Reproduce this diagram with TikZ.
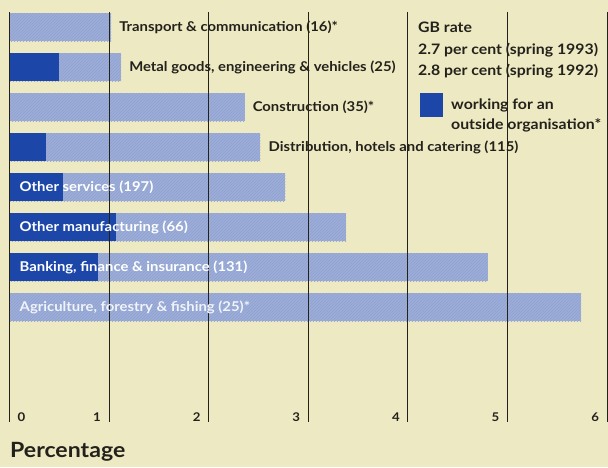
\documentclass[tikz,border=0pt]{standalone}
\usepackage{fontspec}
\setmainfont{Lato}[FakeStretch=1.1]
\usepackage{tikz}
\usetikzlibrary{patterns}
\definecolor{paper}{RGB}{237,233,194}
\definecolor{barlight}{RGB}{156,174,216}
\definecolor{barhatch}{RGB}{142,161,208}
\definecolor{bardark}{RGB}{28,70,168}
\definecolor{ink}{RGB}{35,33,28}
\tikzstyle{bar}=[fill=barlight,postaction={pattern=north east lines,pattern color=barhatch}]
\tikzstyle{outside bar}=[fill=bardark]
\tikzstyle{grid line}=[draw=ink,line width=1pt]
\tikzstyle{sector}=[anchor=west,inner sep=0pt,font=\bfseries\fontsize{13.5}{15}\selectfont]
\tikzstyle{sector out}=[sector,text=ink]
\tikzstyle{sector in}=[sector,text=white]
\tikzstyle{tick label}=[inner sep=0pt,text=ink,font=\bfseries\fontsize{12}{13}\selectfont]
\tikzstyle{key text}=[anchor=west,inner sep=0pt,text=ink,font=\bfseries\fontsize{14.4}{16}\selectfont]

\begin{document}
\begin{tikzpicture}[x=1pt,y=-1pt]
    \useasboundingbox[fill=paper] (0,0) rectangle (608,467);
    \begin{scope}[xshift=9.5pt,x=99.6pt]
    % First we draw the bars, light part and dark part
    \foreach \row/\len/\part in {0/1.02/0, 1/1.12/0.50, 2/2.36/0, 3/2.52/0.37, 4/2.77/0.54, 5/3.38/1.07, 6/4.80/0.89, 7/5.74/0}
    {
        \path[bar] (0,{13+40*\row}) rectangle (\len,{41+40*\row});
        \path[outside bar] (0,{13+40*\row}) rectangle (\part,{41+40*\row});
        \coordinate (start\row) at (0,{27+40*\row});
        \coordinate (end\row) at (\len,{27+40*\row});
    }

    % Then the grid lines and the scale
    \foreach \n in {0,...,6}
        \draw[grid line] (\n,12) -- (\n,422);
    \node[tick label,anchor=south west] (tick0) at ([xshift=8pt]0,422) {0};
    \foreach \n in {1,...,6}
        \node[tick label,anchor=south east] (tick\n) at ([xshift=-8pt]\n,422) {\n};

    % Sector names, beside or inside the bars
    \foreach \row/\name/\text in {0/transport/{Transport \& communication (16)*}, 1/metal/{Metal goods, engineering \& vehicles (25)}, 2/construction/{Construction (35)*}, 3/distribution/{Distribution, hotels and catering (115)}}
        \node[sector out,xshift=8pt] (\name) at (end\row) {\text};
    \foreach \row/\name/\text in {4/services/{Other services (197)}, 5/manufacturing/{Other manufacturing (66)}, 6/banking/{Banking, finance \& insurance (131)}}
        \node[sector in,xshift=10pt] (\name) at (start\row) {\text};
    \node[sector in,xshift=10pt,text=white!85!barlight] (agriculture) at (start7) {Agriculture, forestry \& fishing (25)*};
    \end{scope}

    % The key
    \node[key text] (gbrate) at (418,27) {GB rate};
    \node[key text] (rate93) at (418,50) {2.7 per cent (spring 1993)};
    \node[key text] (rate92) at (418,71) {2.8 per cent (spring 1992)};
    \node[fill=bardark,minimum width=23pt,minimum height=24pt,inner sep=0pt] (keybox) at (431.5,105) {};
    \node[key text] (working) at (451,105) {working for an};
    \node[key text] (outside) at (451,125) {outside organisation*};

    \node[anchor=west,inner sep=0pt,text=ink,font=\bfseries\fontsize{21}{24}\selectfont] (percentage) at (10,452) {Percentage};
\end{tikzpicture}
\end{document}
